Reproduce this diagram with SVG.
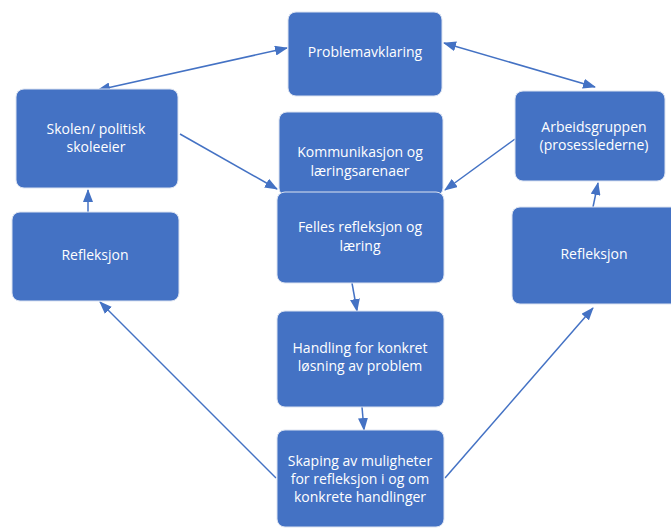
<svg xmlns="http://www.w3.org/2000/svg" width="671" height="529" viewBox="0 0 671 529">
<style>
.box{fill:#4472C4;stroke:#DCE3F1;stroke-width:1}
.t{fill:#FFFFFF;font-family:"Open Sans","Noto Sans","Liberation Sans",sans-serif;font-size:14px;text-anchor:middle}
.c{stroke:#4472C4;stroke-width:1.5;fill:none}
</style>
<defs>
<marker id="ah" markerUnits="userSpaceOnUse" markerWidth="13" markerHeight="10" refX="12" refY="5" orient="auto-start-reverse" viewBox="0 0 13 10">
<path d="M0,0 L13,5 L0,10 Z" fill="#4472C4"/>
</marker>
</defs>
<rect width="671" height="529" fill="#FFFFFF"/>
<g id="connectors">
<line class="c" x1="98" y1="90" x2="287" y2="48" marker-start="url(#ah)" marker-end="url(#ah)"/>
<line class="c" x1="444" y1="43" x2="595" y2="87" marker-start="url(#ah)" marker-end="url(#ah)"/>
<line class="c" x1="180" y1="134" x2="277" y2="189" marker-end="url(#ah)"/>
<line class="c" x1="515" y1="139" x2="445" y2="190" marker-end="url(#ah)"/>
<line class="c" x1="88" y1="212" x2="88" y2="190" marker-end="url(#ah)"/>
<line class="c" x1="593" y1="207" x2="598" y2="183" marker-end="url(#ah)"/>
<line class="c" x1="352" y1="283" x2="357" y2="311" marker-end="url(#ah)"/>
<line class="c" x1="362" y1="407" x2="364" y2="430" marker-end="url(#ah)"/>
<line class="c" x1="276" y1="478" x2="100" y2="302" marker-end="url(#ah)"/>
<line class="c" x1="445" y1="478" x2="593" y2="308" marker-end="url(#ah)"/>
</g>
<g id="problemavklaring">
<rect class="box" x="288" y="12" width="154" height="84" rx="8"/>
<text class="t" x="365" y="57">Problemavklaring</text>
</g>
<g id="skolen">
<rect class="box" x="16" y="89" width="162" height="99" rx="8"/>
<text class="t" x="96" y="134">Skolen/ politisk</text>
<text class="t" x="96" y="152">skoleeier</text>
</g>
<g id="refleksjon-venstre">
<rect class="box" x="12" y="212" width="167" height="89" rx="8"/>
<text class="t" x="95" y="260">Refleksjon</text>
</g>
<g id="arbeidsgruppen">
<rect class="box" x="515" y="91" width="150" height="90" rx="8"/>
<text class="t" x="594" y="132">Arbeidsgruppen</text>
<text class="t" x="594" y="150">(prosesslederne)</text>
</g>
<g id="refleksjon-hoyre">
<rect class="box" x="512" y="207" width="170" height="97" rx="8"/>
<text class="t" x="594" y="259">Refleksjon</text>
</g>
<g id="kommunikasjon">
<rect class="box" x="279" y="112" width="164" height="84" rx="8"/>
<text class="t" x="360" y="157">Kommunikasjon og</text>
<text class="t" x="360" y="176">læringsarenaer</text>
</g>
<g id="felles">
<rect class="box" x="277" y="192" width="167" height="91" rx="8"/>
<text class="t" x="360" y="232">Felles refleksjon og</text>
<text class="t" x="360" y="251">læring</text>
</g>
<g id="handling">
<rect class="box" x="277" y="311" width="167" height="96" rx="8"/>
<text class="t" x="360" y="353">Handling for konkret</text>
<text class="t" x="360" y="371">løsning av problem</text>
</g>
<g id="skaping">
<rect class="box" x="277" y="430" width="167" height="97" rx="8"/>
<text class="t" x="360" y="466">Skaping av muligheter</text>
<text class="t" x="360" y="484">for refleksjon i og om</text>
<text class="t" x="360" y="502">konkrete handlinger</text>
</g>
</svg>
